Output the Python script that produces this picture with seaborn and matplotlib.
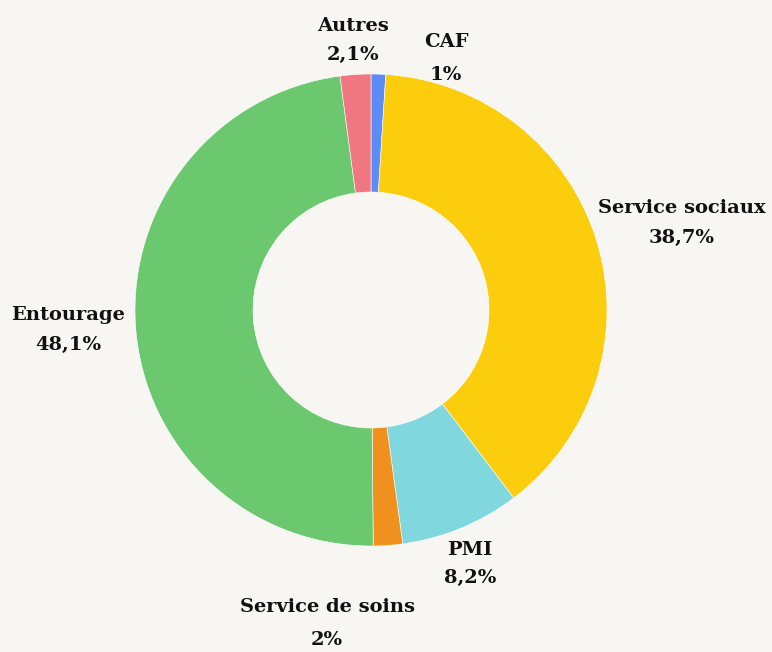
import matplotlib
matplotlib.use("Agg")
import matplotlib.pyplot as plt
import seaborn as sns

# Share of each source (percent), clockwise from 12 o'clock
categories = ["CAF", "Service sociaux", "PMI", "Service de soins", "Entourage", "Autres"]
values = [1.0, 38.7, 8.2, 2.0, 48.1, 2.1]
value_labels = ["1%", "38,7%", "8,2%", "2%", "48,1%", "2,1%"]
colors = ["#5b8cf8", "#fbcd0d", "#81d7de", "#f0901f", "#6bc86e", "#f07680"]

BG = "#f7f6f2"
sns.set_theme(style="white", rc={"figure.facecolor": BG, "axes.facecolor": BG})
plt.rcParams["font.family"] = ["DejaVu Serif"]

W, H = 772, 652
fig = plt.figure(figsize=(W / 100, H / 100), dpi=100)
ax = fig.add_axes([0, 0, 1, 1])
ax.set_xlim(0, W)
ax.set_ylim(0, H)
ax.set_aspect("equal")
ax.axis("off")

cx, cy, R = 371, H - 310, 236
ax.pie(values, colors=sns.color_palette(colors), startangle=90, counterclock=False,
       center=(cx, cy), radius=R, frame=True,
       wedgeprops=dict(width=R * 0.5, edgecolor="white", linewidth=0.4))
ax.set_xlim(0, W)
ax.set_ylim(0, H)
ax.axis("off")

# label anchor points (name line, value line) in pixel coordinates
label_pos = {
    "CAF": (446, 42, 75),
    "Service sociaux": (682, 208, 238),
    "PMI": (470, 550, 578),
    "Service de soins": (327, 607, 640),
    "Entourage": (68, 315, 345),
    "Autres": (353, 26, 55),
}
for name, vl in zip(categories, value_labels):
    x, y1, y2 = label_pos[name]
    ax.text(x, H - y1, name, ha="center", va="center", fontsize=14,
            fontweight="bold", color="#111111")
    ax.text(x, H - y2, vl, ha="center", va="center", fontsize=14,
            fontweight="bold", color="#111111")

fig.savefig("out.png", dpi=100, facecolor=BG)
